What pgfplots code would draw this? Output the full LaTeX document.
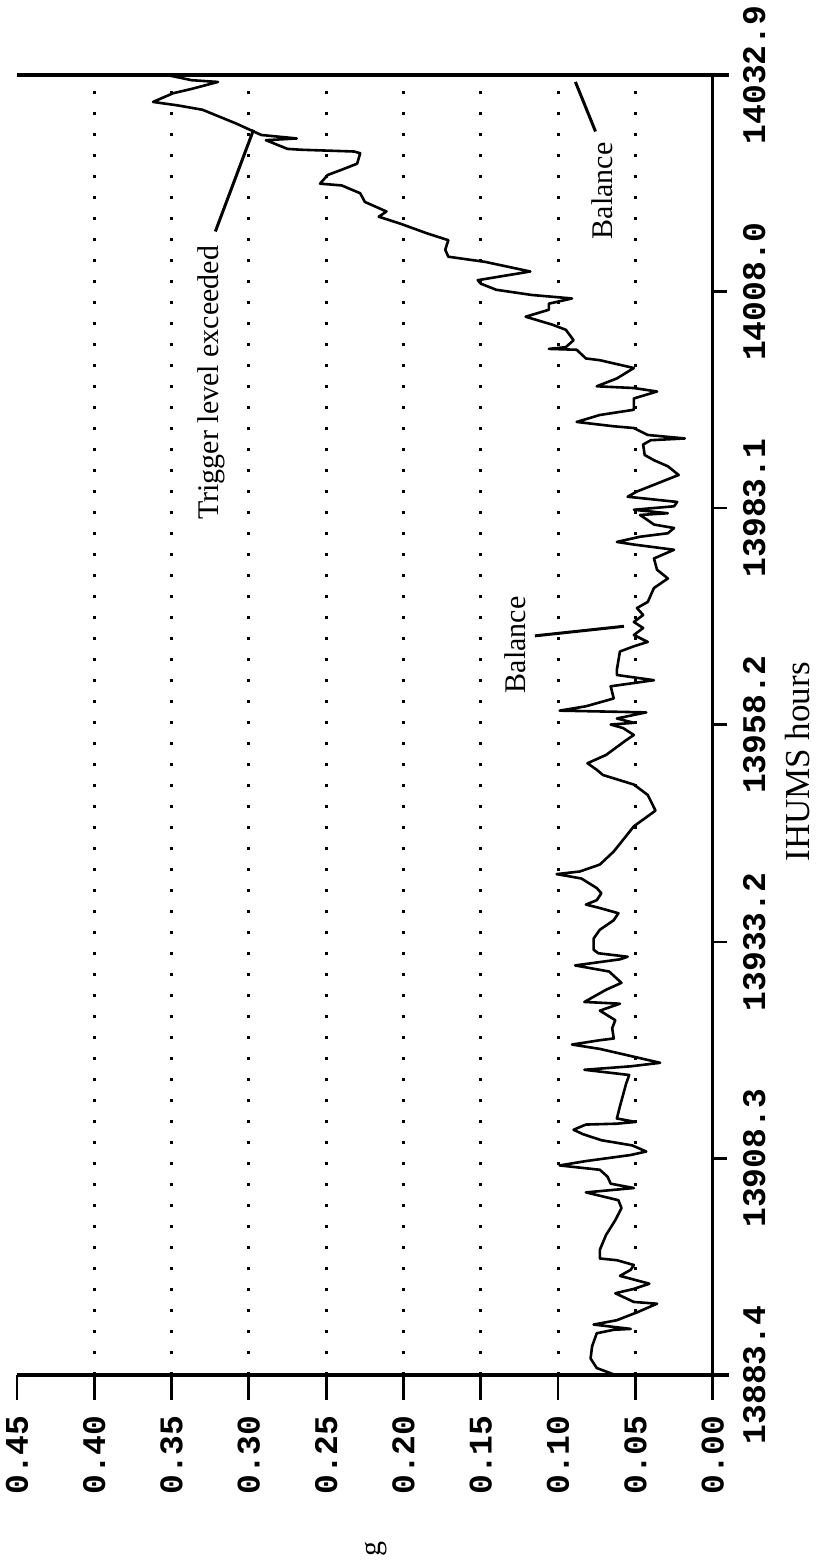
\documentclass[border=0pt]{standalone}
\usepackage{fontspec}
\setmainfont{Liberation Serif}
\newfontfamily\tickfont{Liberation Mono}
\usepackage{pgfplots}
\usepackage{pgfplotstable}
\pgfplotsset{compat=1.18}

% balance vibration level against IHUMS hours
\pgfplotstableread{
hours value
13883.4 0.063
13884.2 0.075
13885.3 0.079
13886.7 0.078
13888.2 0.075
13888.6 0.064
13888.7 0.053
13889.2 0.077
13889.7 0.062
13890.6 0.049
13891.6 0.036
13891.8 0.051
13892.8 0.063
13893.3 0.051
13893.9 0.041
13894.8 0.060
13895.5 0.053
13896.05 0.051
13896.6 0.062
13896.8 0.073
13897.8 0.073
13899.5 0.069
13901.2 0.063
13902.6 0.059
13903.5 0.061
13904.1 0.075
13904.4 0.082
13904.9 0.051
13905.4 0.066
13906.2 0.068
13907.0 0.073
13907.5 0.099
13908.0 0.082
13908.7 0.053
13909.1 0.043
13909.8 0.052
13910.4 0.072
13911.1 0.084
13911.6 0.090
13912.2 0.082
13912.3 0.062
13912.5 0.050
13912.9 0.062
13914.3 0.060
13916.9 0.056
13917.9 0.054
13918.5 0.083
13918.9 0.053
13919.3 0.034
13920.0 0.051
13920.9 0.073
13921.4 0.091
13921.9 0.073
13922.1 0.064
13923.3 0.065
13924.2 0.063
13925.3 0.073
13926.1 0.060
13926.3 0.083
13927.7 0.069
13928.5 0.059
13929.8 0.067
13930.5 0.089
13931.2 0.060
13931.5 0.055
13931.9 0.074
13932.3 0.077
13933.6 0.077
13934.6 0.073
13935.7 0.064
13936.5 0.061
13937.1 0.073
13937.5 0.082
13938.0 0.075
13938.8 0.072
13939.4 0.075
13940.5 0.085
13941.0 0.101
13941.3 0.086
13942.1 0.073
13943.6 0.064
13946.5 0.051
13948.3 0.037
13950.1 0.042
13951.3 0.051
13952.4 0.071
13953.0 0.075
13953.75 0.081
13954.7 0.069
13956.4 0.056
13957.0 0.051
13957.8 0.058
13958.2 0.066
13958.4 0.051
13958.9 0.062
13959.6 0.043
13959.8 0.099
13960.3 0.082
13961.2 0.064
13962.6 0.066
13963.3 0.038
13963.9 0.062
13964.5 0.062
13966.6 0.060
13967.2 0.051
13967.7 0.042
13968.5 0.051
13969.3 0.045
13970.0 0.051
13970.8 0.045
13971.6 0.049
13972.3 0.042
13973.9 0.038
13975.0 0.029
13976.0 0.036
13977.3 0.038
13978.3 0.025
13978.9 0.051
13979.2 0.062
13979.8 0.047
13980.2 0.029
13980.8 0.025
13981.2 0.038
13981.7 0.042
13982.3 0.047
13982.5 0.029
13982.9 0.051
13983.3 0.025
13983.8 0.023
13984.4 0.055
13985.0 0.049
13986.9 0.022
13987.9 0.029
13988.6 0.038
13989.2 0.044
13990.4 0.045
13990.9 0.040
13991.1 0.018
13991.5 0.042
13992.3 0.051
13992.5 0.064
13993.0 0.088
13993.8 0.073
13994.4 0.051
13995.7 0.051
13996.5 0.036
13996.9 0.051
13997.1 0.075
13998.0 0.062
13999.2 0.051
14000.1 0.073
14000.3 0.082
14001.3 0.088
14001.4 0.106
14001.6 0.095
14002.4 0.090
14003.6 0.095
14004.2 0.104
14005.1 0.121
14005.9 0.106
14006.6 0.106
14007.2 0.091
14007.6 0.117
14008.2 0.140
14008.9 0.150
14009.3 0.152
14010.3 0.118
14011.4 0.147
14012.0 0.171
14012.8 0.173
14013.9 0.171
14014.7 0.185
14015.8 0.202
14016.6 0.216
14017.2 0.211
14018.3 0.225
14019.3 0.228
14020.2 0.240
14020.4 0.254
14021.4 0.249
14022.0 0.240
14022.7 0.230
14023.9 0.228
14024.1 0.232
14024.3 0.266
14024.4 0.275
14025.4 0.289
14025.6 0.269
14026.0 0.292
14027.3 0.308
14028.9 0.330
14029.4 0.346
14029.8 0.362
14030.8 0.349
14031.3 0.337
14032.1 0.320
14032.3 0.337
14032.9 0.353
}\balancedata

\begin{document}
\begin{tikzpicture}
\begin{axis}[
  name=main,
  scale only axis,
  width=347.85pt, height=650pt,
  xmin=0, xmax=0.45, x dir=reverse,
  ymin=13883.4, ymax=14032.9,
  scaled x ticks=false, scaled y ticks=false,
  clip=false,
  axis line style={draw=none},
  xtick={0,0.05,0.10,0.15,0.20,0.25,0.30,0.35,0.40,0.45},
  xticklabels={0.00,0.05,0.10,0.15,0.20,0.25,0.30,0.35,0.40,0.45},
  minor xtick={0.05,0.10,0.15,0.20,0.25,0.30,0.35,0.40},
  minor tick length=0pt,
  xminorgrids,
  minor x grid style={black, line width=1.5pt, dash pattern=on 1.5pt off 9pt},
  xtick pos=left,
  tick align=outside,
  major tick length=12.5pt,
  tick style={black, line width=1.4pt},
  xticklabel shift=7.5pt,
  xticklabel style={rotate=90, anchor=east, inner sep=0pt,
    font=\fontsize{16.5pt}{18pt}\selectfont\tickfont\bfseries},
  ytick={13883.4,13908.3,13933.2,13958.2,13983.1,14008.0,14032.9},
  yticklabels={13883.4,13908.3,13933.2,13958.2,13983.1,14008.0,14032.9},
  ytick pos=right,
  yticklabel pos=right,
  ytick style={draw=none},
  yticklabel shift=2.5pt,
  yticklabel style={rotate=90, anchor=north, inner sep=0pt,
    font=\fontsize{16.5pt}{18pt}\selectfont\tickfont\bfseries},
]
\addplot[black, line width=1.3pt, line join=round] table[x=value, y=hours] {\balancedata};

% frame corners and tick positions on the hours axis
\coordinate (ll) at (axis cs:0.45,13883.4);
\coordinate (lr) at (axis cs:0,13883.4);
\coordinate (ul) at (axis cs:0.45,14032.9);
\coordinate (ur) at (axis cs:0,14032.9);
\coordinate (t1) at (axis cs:0,13908.3);
\coordinate (t2) at (axis cs:0,13933.2);
\coordinate (t3) at (axis cs:0,13958.2);
\coordinate (t4) at (axis cs:0,13983.1);
\coordinate (t5) at (axis cs:0,14008.0);

% pointers and their labels
\coordinate (trigA) at (axis cs:0.3217,14014.9);
\coordinate (trigB) at (axis cs:0.2970,14026.6);
\coordinate (trigT) at (axis cs:0.324,13997.5);
\coordinate (balA) at (axis cs:0.0758,14026.4);
\coordinate (balB) at (axis cs:0.0888,14032.1);
\coordinate (balT) at (axis cs:0.0716,14019.56);
\coordinate (balC) at (axis cs:0.1150,13968.4);
\coordinate (balD) at (axis cs:0.0574,13969.5);
\coordinate (balU) at (axis cs:0.1279,13967.35);
\coordinate (xl) at (axis cs:0,13953.9);
\coordinate (yl) at (axis cs:0.218,13883.4);
\end{axis}

\begin{scope}[line width=1.6pt]
\draw (ll) -- ([xshift=8pt]lr);
\draw (ul) -- ([xshift=8pt]ur);
\draw (lr) -- (ur);
\end{scope}
\foreach \t in {t1,t2,t3,t4,t5}{
  \draw[line width=1.2pt] (\t) -- ([xshift=7pt]\t);
}

\draw[line width=1.5pt] (trigA) -- (trigB);
\node[rotate=90, inner sep=0pt, font=\fontsize{15pt}{18pt}\selectfont] at (trigT) {Trigger level exceeded};
\draw[line width=1.5pt] (balA) -- (balB);
\node[rotate=90, inner sep=0pt, font=\fontsize{15pt}{18pt}\selectfont] at (balT) {Balance};
\draw[line width=1.5pt] (balC) -- (balD);
\node[rotate=90, inner sep=0pt, font=\fontsize{15pt}{18pt}\selectfont] at (balU) {Balance};

\node[rotate=90, inner sep=0pt, font=\fontsize{17.5pt}{20pt}\selectfont] at ([xshift=42.5pt]xl) {IHUMS hours};
\node[rotate=90, inner sep=0pt, font=\fontsize{15pt}{18pt}\selectfont] at ([yshift=-87pt]yl) {g};

\pgfresetboundingbox
\path ([shift={(-8.5pt,-93pt)}]ll) rectangle ([shift={(399pt,687.5pt)}]ll);
\end{tikzpicture}
\end{document}
